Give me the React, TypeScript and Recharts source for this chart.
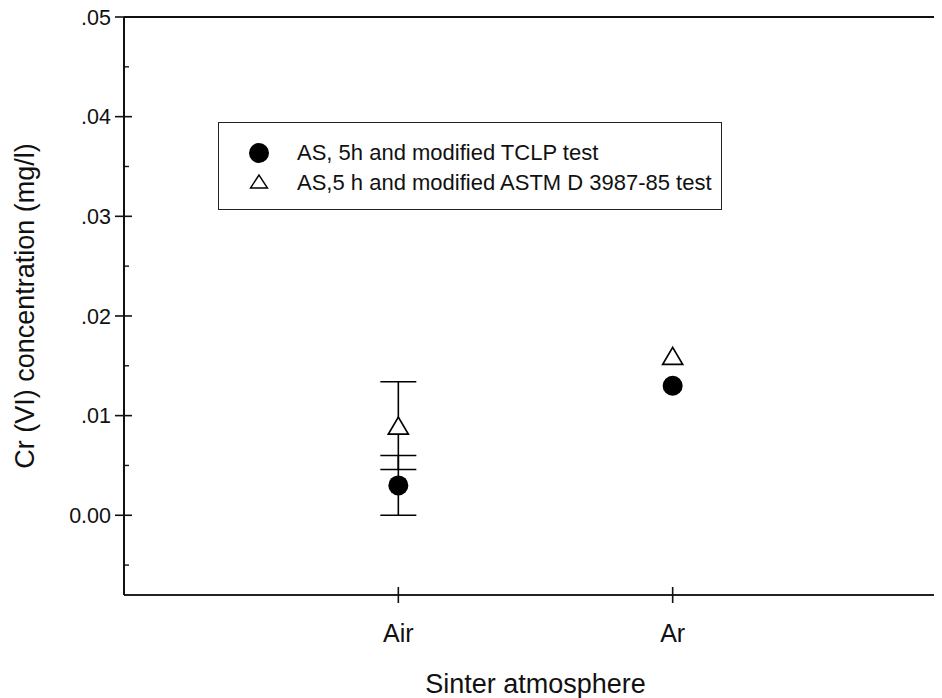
import React from 'react';
import { ComposedChart, Scatter, XAxis, YAxis, ErrorBar, Legend } from 'recharts';

const categories = ['Air', 'Ar'];
const categoryPositions = [1, 2];
const tclpValues = [0.003, 0.013];
const tclpErrors: (number | null)[] = [0.003, null];
const astmValues = [0.009, 0.016];
const astmErrors: (number | null)[] = [0.0044, null];
const yTicks = [-0.005, 0, 0.005, 0.01, 0.015, 0.02, 0.025, 0.03, 0.035, 0.04, 0.045, 0.05];
const yDomain = [-0.008, 0.05];
const xDomain = [0, 3];
const seriesNames = ['AS, 5h and modified TCLP test', 'AS,5 h and modified ASTM D 3987-85 test'];

const FONT = '"Liberation Sans", Arial, Helvetica, sans-serif';

const tclpData = categories.map((c, i) => ({ x: categoryPositions[i], y: tclpValues[i], err: tclpErrors[i], name: c }));
const astmData = categories.map((c, i) => ({ x: categoryPositions[i], y: astmValues[i], err: astmErrors[i], name: c }));
const tclpErrData = tclpData.filter((d) => d.err != null);
const astmErrData = astmData.filter((d) => d.err != null);

const isMajor = (v: number) => Math.abs(v * 100 - Math.round(v * 100)) < 1e-6;
const fmtY = (v: number) => (Math.abs(v) < 1e-12 ? '0.00' : v.toFixed(2).replace(/^0\./, '.'));

const LeftTick = (props: any) => {
  const { x, y, payload } = props;
  const v = payload.value as number;
  if (isMajor(v)) {
    return (
      <g>
        <line x1={x - 9} x2={x + 8} y1={y} y2={y} stroke="#111" strokeWidth={1.6} />
        <text x={x - 13} y={y} dy="0.355em" textAnchor="end" fontSize={21.5} fontFamily={FONT} fill="#111">
          {fmtY(v)}
        </text>
      </g>
    );
  }
  return <line x1={x} x2={x + 5} y1={y} y2={y} stroke="#111" strokeWidth={1.4} />;
};

const RightTick = (props: any) => {
  const { x, y, payload } = props;
  const v = payload.value as number;
  if (isMajor(v)) return <line x1={x - 8} x2={x} y1={y} y2={y} stroke="#111" strokeWidth={1.6} />;
  return <line x1={x - 5} x2={x} y1={y} y2={y} stroke="#111" strokeWidth={1.4} />;
};

const BottomTick = (props: any) => {
  const { x, y, payload } = props;
  const idx = categoryPositions.indexOf(payload.value);
  return (
    <g>
      <line x1={x} x2={x} y1={y - 8} y2={y + 8} stroke="#111" strokeWidth={1.6} />
      <text x={x} y={y + 47} textAnchor="middle" fontSize={25} fontFamily={FONT} fill="#111">
        {idx >= 0 ? categories[idx] : ''}
      </text>
    </g>
  );
};

const TopTick = (props: any) => {
  const { x, y } = props;
  return <line x1={x} x2={x} y1={y - 8} y2={y + 8} stroke="#111" strokeWidth={1.6} />;
};

const CircleShape = (props: any) => {
  const { cx, cy } = props;
  return <circle cx={cx} cy={cy} r={10} fill="#000" />;
};

const TriangleShape = (props: any) => {
  const { cx, cy } = props;
  const w = 20;
  const h = 17;
  return (
    <polygon
      points={`${cx},${cy - h / 2} ${cx - w / 2},${cy + h / 2} ${cx + w / 2},${cy + h / 2}`}
      fill="#fff"
      stroke="#000"
      strokeWidth={1.7}
    />
  );
};

const EmptyShape = () => <g />;

const LegendContent = () => (
  <div style={{ width: 504, height: 88, border: '1px solid #222', boxSizing: 'border-box', background: '#fff' }}>
    <svg width={502} height={86} style={{ display: 'block' }}>
      <circle cx={40} cy={30} r={10} fill="#000" />
      <text x={78} y={37} fontSize={22} fontFamily={FONT} fill="#111">
        {seriesNames[0]}
      </text>
      <polygon points={`40,52 31.5,65 48.5,65`} fill="#fff" stroke="#000" strokeWidth={1.4} />
      <text x={78} y={67} fontSize={22} fontFamily={FONT} fill="#111">
        {seriesNames[1]}
      </text>
    </svg>
  </div>
);

export default function App() {
  return (
    <div style={{ width: 934, height: 698, marginTop: -8, overflow: 'hidden', position: 'relative', background: '#fff' }}>
      <ComposedChart width={949} height={698} margin={{ top: 0, right: 0, bottom: 0, left: 0 }}>
        <XAxis
          dataKey="x"
          type="number"
          domain={xDomain}
          ticks={categoryPositions}
          allowDataOverflow
          height={103}
          tickSize={0}
          tickMargin={0}
          tickLine={false}
          axisLine={{ stroke: '#222', strokeWidth: 2.2 }}
          tick={<BottomTick />}
          interval={0}
          label={{
            value: 'Sinter atmosphere',
            position: 'insideBottom',
            offset: 5,
            style: { fontSize: 27, fontFamily: FONT, fill: '#111' },
          }}
        />
        <XAxis
          xAxisId="top"
          orientation="top"
          type="number"
          domain={xDomain}
          ticks={categoryPositions}
          allowDataOverflow
          height={17}
          tickSize={0}
          tickMargin={0}
          tickLine={false}
          axisLine={{ stroke: '#111', strokeWidth: 2 }}
          tick={<TopTick />}
          interval={0}
        />
        <YAxis
          dataKey="y"
          type="number"
          domain={yDomain}
          ticks={yTicks}
          allowDataOverflow
          width={116}
          tickSize={0}
          tickMargin={0}
          tickLine={false}
          axisLine={{ stroke: '#111', strokeWidth: 2 }}
          tick={<LeftTick />}
          interval={0}
          label={{
            value: 'Cr (VI) concentration (mg/l)',
            angle: -90,
            position: 'insideLeft',
            offset: 16,
            style: { fontSize: 27, fontFamily: FONT, fill: '#111', textAnchor: 'middle' },
          }}
        />
        <YAxis
          yAxisId="right"
          orientation="right"
          type="number"
          domain={yDomain}
          ticks={yTicks}
          allowDataOverflow
          width={10}
          tickSize={0}
          tickMargin={0}
          tickLine={false}
          axisLine={{ stroke: '#111', strokeWidth: 2 }}
          tick={<RightTick />}
          interval={0}
        />
        <Legend
          layout="vertical"
          align="center"
          verticalAlign="middle"
          content={<LegendContent />}
          wrapperStyle={{ position: 'absolute', left: 210, top: 122, width: 504, height: 88 }}
        />
        <Scatter data={astmErrData} dataKey="y" shape={<EmptyShape />} isAnimationActive={false} legendType="none">
          <ErrorBar dataKey="err" direction="y" width={18} stroke="#000" strokeWidth={1.6} isAnimationActive={false} />
        </Scatter>
        <Scatter data={tclpErrData} dataKey="y" shape={<EmptyShape />} isAnimationActive={false} legendType="none">
          <ErrorBar dataKey="err" direction="y" width={18} stroke="#000" strokeWidth={1.6} isAnimationActive={false} />
        </Scatter>
        <Scatter name={seriesNames[0]} data={tclpData} dataKey="y" shape={<CircleShape />} isAnimationActive={false} />
        <Scatter name={seriesNames[1]} data={astmData} dataKey="y" shape={<TriangleShape />} isAnimationActive={false} />
      </ComposedChart>
    </div>
  );
}
